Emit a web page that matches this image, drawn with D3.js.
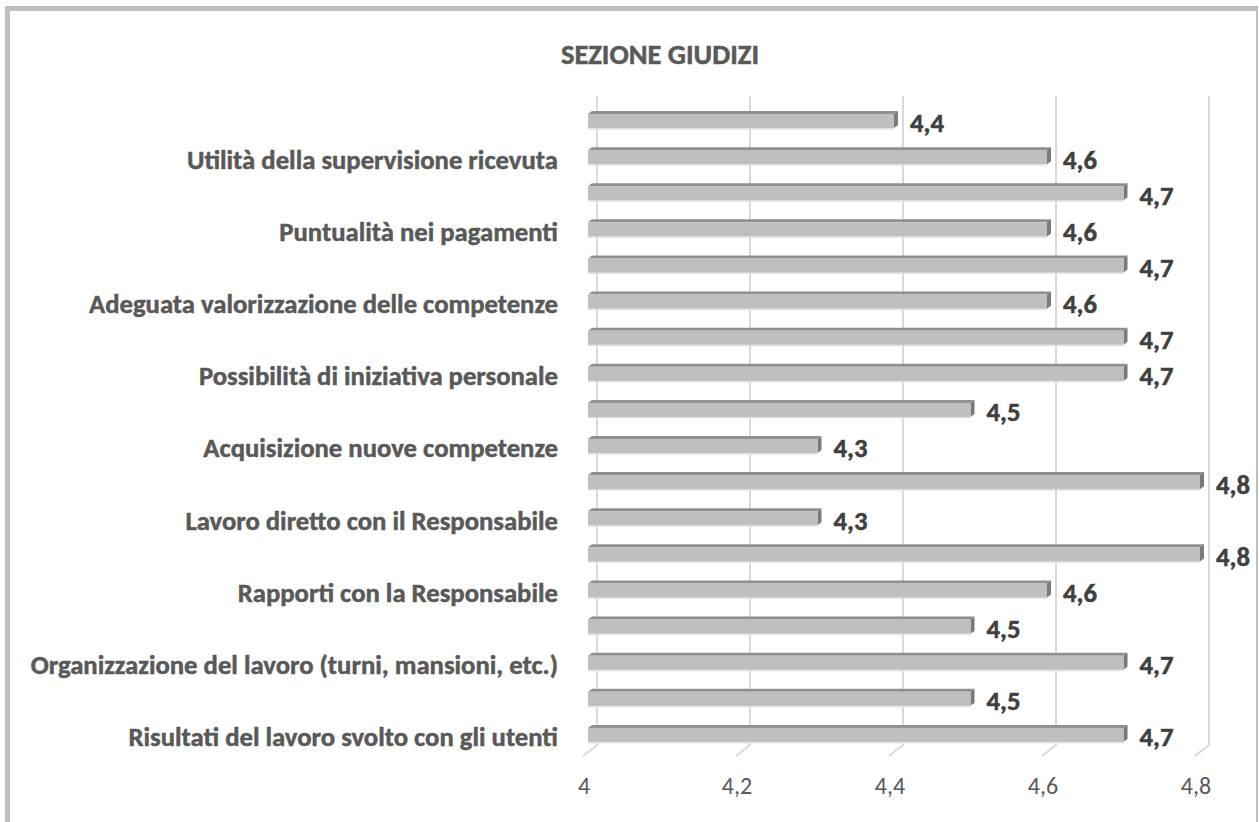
<!DOCTYPE html>
<html lang="it">
  <head>
    <meta charset="UTF-8" />
    <title>Sezione giudizi</title>
    <script src="https://cdn.jsdelivr.net/npm/d3@7"></script>
    <style>
      body { margin: 0; background: #fff; }
      text { font-family: Carlito, Lato, sans-serif; }
      .bold { font-weight: bold; stroke-width: 0.5px; }
    </style>
  </head>
  <body>
    <div id="container"></div>
    <script>
      // data, listed from the top bar down
      const categories = [
        '', 'Utilità della supervisione ricevuta',
        '', 'Puntualità nei pagamenti',
        '', 'Adeguata valorizzazione delle competenze',
        '', 'Possibilità di iniziativa personale',
        '', 'Acquisizione nuove competenze',
        '', 'Lavoro diretto con il Responsabile',
        '', 'Rapporti con la Responsabile',
        '', 'Organizzazione del lavoro (turni, mansioni, etc.)',
        '', 'Risultati del lavoro svolto con gli utenti'
      ]
      const values = [4.4, 4.6, 4.7, 4.6, 4.7, 4.6, 4.7, 4.7, 4.5, 4.3, 4.8, 4.3, 4.8, 4.6, 4.5, 4.7, 4.5, 4.7]
      const tickValues = [4, 4.2, 4.4, 4.6, 4.8]
      const title = 'SEZIONE GIUDIZI'

      const width = 1259
      const height = 822
      const fmt = v => d3.format('.1~f')(v).replace('.', ',')

      // 3d offsets (back wall vs bar front)
      const wallDx = 9
      const floorY = 745
      const depthDx = 4
      const depthDy = 3

      const xScale = d3.scaleLinear()
        .domain([4, 4.8])
        .range([588, 1200])

      const yScale = d3.scaleBand()
        .domain(d3.range(values.length))
        .range([92, 764])
        .padding(0.61)

      const svg = d3.create('svg')
        .attr('width', width)
        .attr('height', height)
        .attr('viewBox', [0, 0, width, height])

      // frame
      svg.append('rect').attr('x', 5).attr('y', 6).attr('width', 5).attr('height', height).attr('fill', '#bfbfbf')
      svg.append('rect').attr('x', 5).attr('y', 6).attr('width', 1253).attr('height', 5).attr('fill', '#bfbfbf')
      svg.append('rect').attr('x', 1256).attr('y', 6).attr('width', 2).attr('height', height).attr('fill', '#bfbfbf')

      svg.append('text')
        .attr('class', 'bold')
        .attr('x', 660)
        .attr('y', 64)
        .attr('text-anchor', 'middle')
        .attr('font-size', 28.5)
        .attr('fill', '#595959')
        .attr('stroke', '#595959')
        .text(title)

      // gridlines on the back wall plus the floor edge
      const grid = svg.append('g')
        .attr('fill', 'none')
        .attr('stroke', '#d9d9d9')
        .attr('stroke-width', 2)
      grid.selectAll('path')
        .data(tickValues)
        .join('path')
        .attr('d', d => {
          const x = xScale(d) + wallDx
          return `M${x},96V${floorY}L${x - 14},${floorY + 11}`
        })

      // x axis labels
      svg.append('g')
        .selectAll('text')
        .data(tickValues)
        .join('text')
        .attr('x', d => xScale(d) - 4)
        .attr('y', 794)
        .attr('text-anchor', 'middle')
        .attr('font-size', 24)
        .attr('fill', '#595959')
        .text(d => fmt(d))

      // bars
      const bh = yScale.bandwidth()
      const bars = svg.append('g')
        .selectAll('g')
        .data(values)
        .join('g')
      bars.append('rect')
        .attr('x', xScale(4))
        .attr('y', (d, i) => yScale(i) + bh)
        .attr('width', d => xScale(d) - xScale(4))
        .attr('height', 1.5)
        .attr('fill', '#e3e3e3')
      bars.append('path')
        .attr('fill', '#8f8f8f')
        .attr('d', (d, i) => {
          const x0 = xScale(4), x1 = xScale(d), y = yScale(i)
          return `M${x0},${y}L${x0 + depthDx},${y - depthDy}H${x1 + depthDx}L${x1},${y}Z`
        })
      bars.append('path')
        .attr('fill', '#7a7a7a')
        .attr('d', (d, i) => {
          const x1 = xScale(d), y = yScale(i)
          return `M${x1},${y}L${x1 + depthDx},${y - depthDy}V${y + bh - depthDy}L${x1},${y + bh}Z`
        })
      bars.append('rect')
        .attr('x', xScale(4))
        .attr('y', (d, i) => yScale(i))
        .attr('width', d => xScale(d) - xScale(4))
        .attr('height', bh)
        .attr('fill', '#bfbfbf')

      // value labels
      bars.append('text')
        .attr('class', 'bold')
        .attr('x', d => xScale(d) + 16)
        .attr('y', (d, i) => yScale(i) + bh / 2 + 2)
        .attr('dy', '0.35em')
        .attr('font-size', 26.7)
        .attr('fill', '#404040')
        .attr('stroke', '#404040')
        .text(d => fmt(d))

      // category labels
      svg.append('g')
        .selectAll('text')
        .data(categories)
        .join('text')
        .attr('class', 'bold')
        .attr('x', 558)
        .attr('y', (d, i) => yScale(i) + bh / 2 + 2)
        .attr('dy', '0.35em')
        .attr('text-anchor', 'end')
        .attr('font-size', 26.7)
        .attr('fill', '#595959')
        .attr('stroke', '#595959')
        .text(d => d)

      container.append(svg.node())
    </script>
  </body>
</html>
